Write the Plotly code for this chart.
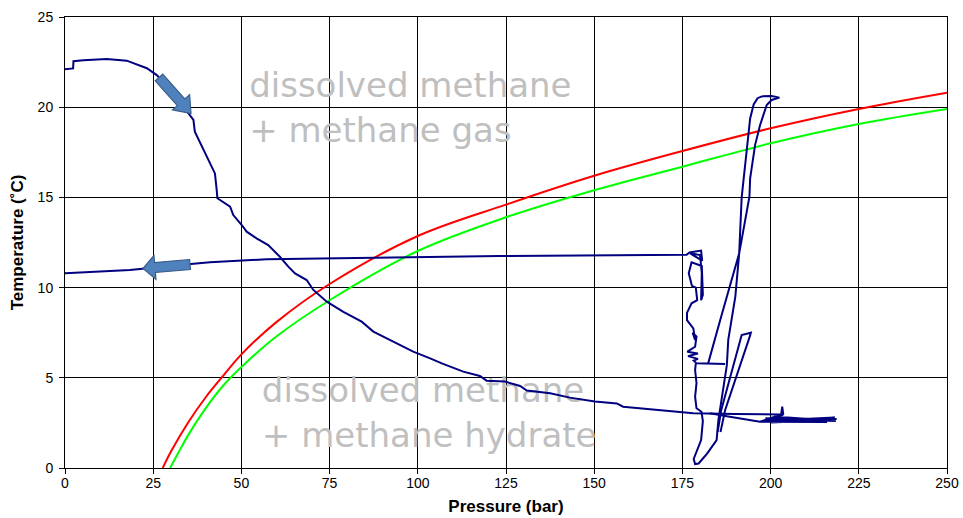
import math
import plotly.graph_objects as go

# ---------------- data ----------------
# hydrate equilibrium curves
red_P = [27.7, 30.0, 35.0, 40.0, 45.0, 50.0, 60.0, 75.0, 100.0, 125.0, 150.0, 175.0, 200.0, 225.0, 250.0]
red_T = [0.0, 0.9, 2.55, 3.95, 5.15, 6.3, 8.1, 10.2, 12.86, 14.6, 16.2, 17.57, 18.83, 19.9, 20.8]
green_P = [29.8, 32.0, 35.0, 40.0, 45.0, 50.0, 60.0, 75.0, 100.0, 125.0, 150.0, 175.0, 200.0, 225.0, 250.0]
green_T = [0.0, 0.8, 1.85, 3.35, 4.6, 5.6, 7.3, 9.3, 12.03, 13.9, 15.4, 16.7, 18.0, 19.07, 19.9]

# experiment path pieces (pressure in bar, temperature in °C)
cool_P = [0.0, 2.3, 2.4, 5.2, 11.8, 17.5, 23.2, 26.0, 30.0, 34.5, 36.4, 36.8, 41.1, 42.5, 43.0, 43.2,
          46.8, 47.7, 50.1, 51.5, 54.3, 57.6, 60.9, 63.3, 65.2, 68.5, 70.4, 74.2, 78.9, 84.1, 87.4,
          93.1, 98.7, 103.5, 106.8, 112.9, 117.6, 119.5, 124.7, 129.0, 130.9, 137.5, 143.1, 150.2,
          156.4, 158.2, 167.7, 178.1, 190.0, 203.0, 203.3, 203.6]
cool_T = [22.1, 22.15, 22.55, 22.6, 22.67, 22.58, 22.16, 21.78, 20.95, 19.75, 19.3, 18.64, 16.9, 16.33,
          15.4, 14.95, 14.49, 14.02, 13.47, 13.1, 12.73, 12.36, 11.71, 11.16, 10.79, 10.42, 9.87, 9.22,
          8.66, 8.11, 7.56, 7.0, 6.45, 6.08, 5.8, 5.34, 5.1, 4.84, 4.79, 4.55, 4.29, 4.14, 3.9, 3.68,
          3.58, 3.4, 3.22, 3.03, 3.0, 2.97, 3.4, 2.95]

band_P = [203.6, 200.5, 197.0, 218.7, 199.0, 218.2, 200.0, 217.6, 198.5, 218.5, 201.0, 216.0, 197.0, 188.0, 182.8]
band_T = [2.95, 2.8, 2.57, 2.72, 2.62, 2.8, 2.52, 2.66, 2.75, 2.6, 2.85, 2.55, 2.57, 2.85, 3.03]

depress_P = [0.0, 18.4, 32.6, 41.1, 57.2, 75.1, 123.3, 176.2, 177.0, 180.3, 180.6, 177.2, 180.0, 180.5,
             180.3, 180.8, 180.5, 177.6, 176.8, 177.7, 178.8, 179.2, 177.6, 176.3, 176.3, 178.1, 178.6,
             177.9, 179.0, 178.6, 176.4, 179.4, 176.6, 179.4, 178.2, 179.0, 187.1]
depress_T = [10.8, 10.98, 11.25, 11.4, 11.57, 11.62, 11.75, 11.82, 11.95, 12.05, 11.5, 11.9, 11.8, 10.8,
             9.3, 9.6, 11.2, 11.4, 10.8, 10.1, 10.0, 9.3, 9.13, 8.6, 8.2, 7.74, 7.1, 7.5, 7.28, 6.72,
             6.45, 6.35, 6.2, 6.05, 5.95, 5.8, 5.76]

loop_P = [178.8, 178.6, 179.0, 178.6, 179.0, 180.4, 180.8, 180.3, 178.2, 178.6, 179.6, 182.0, 184.7,
          185.2, 187.6, 188.0, 190.0, 191.1, 191.8, 193.2, 194.2, 195.2, 196.3, 197.5, 200.3, 202.5, 200.3,
          198.9, 197.0, 195.6, 194.2, 194.0, 191.1, 186.0, 182.3]
loop_T = [5.8, 5.43, 4.7, 3.95, 3.31, 3.12, 2.6, 1.55, 0.5, 0.22, 0.25, 0.8, 1.55, 2.66, 5.7, 7.1, 9.5,
          11.9, 15.0, 17.53, 19.38, 20.15, 20.5, 20.6, 20.62, 20.53, 20.4, 20.12, 19.0, 17.9, 16.06, 15.04,
          11.9, 8.4, 5.8]

small_P = [185.0, 186.0, 191.8, 194.4, 194.2, 187.1, 185.8]
small_T = [2.0, 3.2, 7.37, 7.5, 7.35, 3.2, 2.0]

# region labels
label_text = ["dissolved methane", "+ methane gas", "dissolved methane", "+ methane hydrate"]
label_P = [52.2, 52.2, 55.8, 55.8]
label_T = [21.04, 18.54, 4.12, 1.65]

x_ticks = [0, 25, 50, 75, 100, 125, 150, 175, 200, 225, 250]
y_ticks = [0, 5, 10, 15, 20, 25]

# ---------------- layout geometry ----------------
W, H = 963, 518
PX0, PX1, PY0, PY1 = 65, 947, 17, 468          # plot area in page pixels
ML, MR, MT, MB = PX0, W - PX1, PY0, H - PY1

NAVY = "#000080"

fig = go.Figure()

# region text (drawn first so the lines lie on top of it)
fig.add_trace(go.Scatter(
    x=label_P, y=label_T, mode="text", text=label_text, textposition="middle right",
    textfont=dict(family="DejaVu Sans", size=34, color="#bfbfbf"),
    hoverinfo="skip", showlegend=False, cliponaxis=False))

fig.add_trace(go.Scatter(x=red_P, y=red_T, mode="lines", line=dict(color="#ff0000", width=2, shape="spline"),
                         showlegend=False))
fig.add_trace(go.Scatter(x=green_P, y=green_T, mode="lines", line=dict(color="#00ff00", width=2, shape="spline"),
                         showlegend=False))

for px_, ty_ in [(cool_P, cool_T), (band_P, band_T), (depress_P, depress_T), (loop_P, loop_T), (small_P, small_T)]:
    fig.add_trace(go.Scatter(x=px_, y=ty_, mode="lines", line=dict(color=NAVY, width=2),
                             showlegend=False))


def to_paper(pt):
    return ((pt[0] - PX0) / (PX1 - PX0), (PY1 - pt[1]) / (PY1 - PY0))


def block_arrow(tail, tip, shaft_w, head_w, head_len):
    dx, dy = tip[0] - tail[0], tip[1] - tail[1]
    L = math.hypot(dx, dy)
    ux, uy = dx / L, dy / L
    nx, ny = -uy, ux
    bx, by = tip[0] - ux * head_len, tip[1] - uy * head_len
    pts = [
        (tail[0] + nx * shaft_w / 2, tail[1] + ny * shaft_w / 2),
        (bx + nx * shaft_w / 2, by + ny * shaft_w / 2),
        (bx + nx * head_w / 2, by + ny * head_w / 2),
        tip,
        (bx - nx * head_w / 2, by - ny * head_w / 2),
        (bx - nx * shaft_w / 2, by - ny * shaft_w / 2),
        (tail[0] - nx * shaft_w / 2, tail[1] - ny * shaft_w / 2),
    ]
    pp = [to_paper(p) for p in pts]
    return "M " + " L ".join(f"{x:.5f},{y:.5f}" for x, y in pp) + " Z"


arrows = [((159, 77.5), (191, 113.5), 10, 23, 15),
          ((190, 264.5), (143, 268.5), 10, 24, 12)]
shapes = []
for tail, tip, sw, hw, hl in arrows:
    shapes.append(dict(type="path", path=block_arrow(tail, tip, sw, hw, hl), xref="paper", yref="paper",
                       fillcolor="#4f81bd", line=dict(color="#385d8a", width=1.2), layer="above"))

axis_common = dict(showgrid=True, gridcolor="#000000", gridwidth=1, zeroline=False, showline=True,
                   linecolor="#000000", linewidth=1, mirror=True, ticks="outside", ticklen=5,
                   tickcolor="#000000", automargin=False,
                   tickfont=dict(family="Liberation Sans", size=14, color="#000000"))

fig.update_layout(
    width=W, height=H, margin=dict(l=ML, r=MR, t=MT, b=MB, autoexpand=False),
    paper_bgcolor="white", plot_bgcolor="white", shapes=shapes,
    xaxis=dict(range=[0, 250], tickvals=x_ticks, ticktext=[str(v) for v in x_ticks],
               ticklabelstandoff=-3,
               title=dict(text="<b>Pressure (bar)</b>", font=dict(family="Liberation Sans", size=17, color="#000"),
                          standoff=10), **axis_common),
    yaxis=dict(range=[0, 25], tickvals=y_ticks, ticktext=[str(v) for v in y_ticks],
               ticklabelstandoff=3,
               title=dict(text="<b>Temperature (˚C)</b>", font=dict(family="Liberation Sans", size=17, color="#000"),
                          standoff=9), **axis_common),
)

# remove the default 8px page margin so the figure fills the window exactly
fig.write_html("out.html", config={"displayModeBar": False},
               post_script="document.body.style.margin='0';document.body.style.overflow='hidden';")
